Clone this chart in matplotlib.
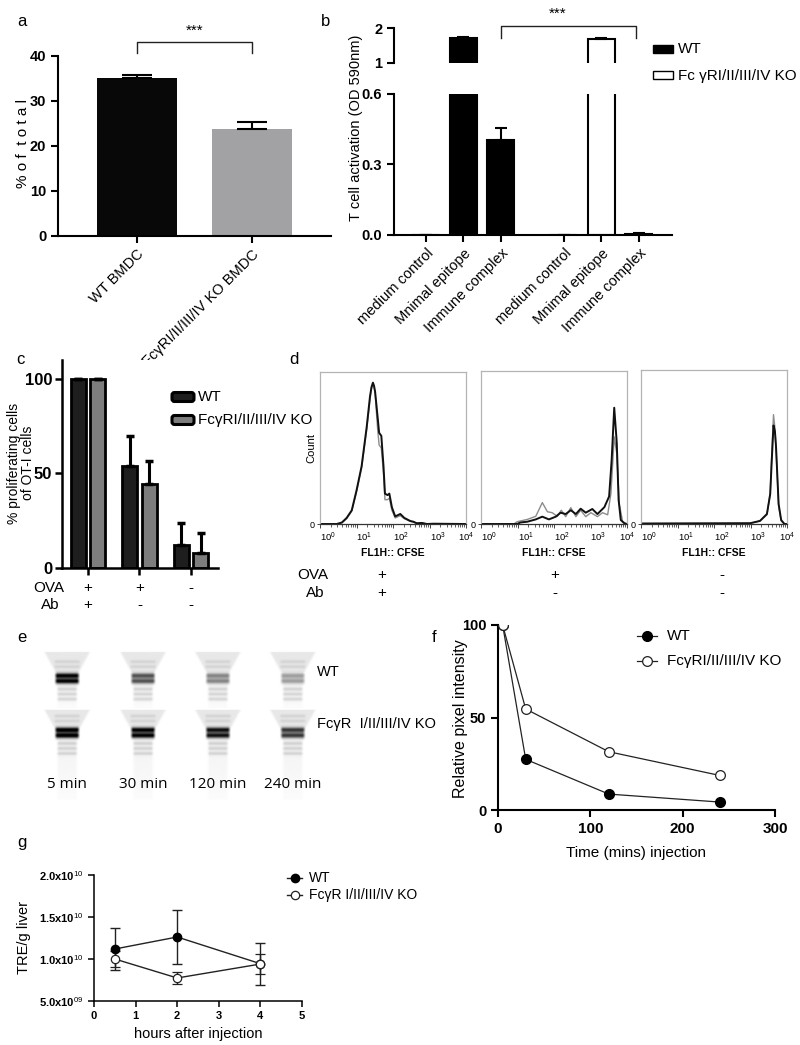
import numpy as np
import matplotlib
matplotlib.use('Agg')
import matplotlib.pyplot as plt
from matplotlib.patches import Rectangle, FancyBboxPatch
from matplotlib.lines import Line2D

plt.rcParams['font.family'] = ['Liberation Sans', 'DejaVu Sans']
plt.rcParams['mathtext.fontset'] = 'custom'
plt.rcParams['mathtext.rm'] = 'Liberation Sans'
plt.rcParams['mathtext.bf'] = 'Liberation Sans:bold'

# ---------------- data ----------------
a_groups = ['WT BMDC', 'FcγRI/II/III/IV KO BMDC']
a_values = [35.0, 23.7]
a_errors = [0.8, 1.6]

b_categories = ['medium control', 'Mnimal epitope', 'Immune complex']
b_wt_values = [0.0, 1.71, 0.404]
b_wt_errors = [0.0, 0.04, 0.052]
b_ko_values = [0.0, 1.69, 0.005]
b_ko_errors = [0.0, 0.035, 0.004]

c_wt_values = [100, 54, 12.3]
c_wt_errors = [0, 16, 11.5]
c_ko_values = [100, 44.4, 8.1]
c_ko_errors = [0, 12, 10.6]
c_ova = ['+', '+', '-']
c_ab = ['+', '-', '-']

# flow histograms: x in decades (log10 CFSE), y = relative count
d1_x = [0, 0.46, 0.6, 0.73, 0.87, 1.0, 1.14, 1.28, 1.37, 1.41, 1.45, 1.48, 1.51, 1.58, 1.62, 1.68,
        1.74, 1.78, 1.85, 1.9, 1.97, 2.06, 2.2, 2.31, 2.47, 2.56, 2.65, 2.79, 2.93, 3.11, 4.0]
d1_black = [0, 0, 0.01, 0.04, 0.09, 0.22, 0.38, 0.64, 0.84, 0.90, 0.93, 0.91, 0.87, 0.70, 0.60, 0.58,
            0.38, 0.20, 0.19, 0.20, 0.11, 0.05, 0.066, 0.04, 0.02, 0.015, 0.005, 0.007, 0, 0.002, 0]
d1_gray = [0, 0, 0.008, 0.035, 0.085, 0.21, 0.37, 0.62, 0.82, 0.89, 0.92, 0.90, 0.86, 0.62, 0.52, 0.50,
           0.33, 0.16, 0.16, 0.17, 0.09, 0.04, 0.055, 0.035, 0.018, 0.012, 0.004, 0.006, 0, 0.002, 0]
d2_x_black = [0, 0.99, 1.08, 1.27, 1.5, 1.68, 1.86, 2.05, 2.18, 2.32, 2.46, 2.6, 2.73, 2.87, 3.05,
              3.19, 3.38, 3.51, 3.58, 3.65, 3.72, 3.77, 3.83, 3.93, 4.0]
d2_black = [0, 0, 0.01, 0.015, 0.03, 0.048, 0.03, 0.048, 0.074, 0.065, 0.09, 0.065, 0.10, 0.074, 0.098,
            0.065, 0.11, 0.18, 0.42, 0.76, 0.53, 0.157, 0.026, 0.004, 0]
d2_x_gray = [0, 0.9, 0.99, 1.27, 1.5, 1.68, 1.82, 1.95, 2.09, 2.2, 2.32, 2.46, 2.6, 2.73, 2.87, 3.01,
             3.19, 3.33, 3.47, 3.56, 3.65, 3.72, 3.79, 3.88, 4.0]
d2_gray = [0, 0, 0.015, 0.03, 0.05, 0.14, 0.08, 0.074, 0.05, 0.09, 0.048, 0.107, 0.048, 0.09, 0.048,
           0.074, 0.048, 0.074, 0.06, 0.2, 0.57, 0.46, 0.13, 0.015, 0]
d3_x = [0, 2.99, 3.26, 3.45, 3.54, 3.58, 3.63, 3.67, 3.70, 3.77, 3.84, 3.93, 4.0]
d3_black = [0.003, 0.005, 0.02, 0.065, 0.195, 0.40, 0.64, 0.60, 0.50, 0.13, 0.026, 0.0, 0]
d3_gray = [0.003, 0.005, 0.02, 0.06, 0.20, 0.44, 0.71, 0.62, 0.48, 0.12, 0.02, 0.0, 0]
d_ova = ['+', '+', '-']
d_ab = ['+', '-', '-']

e_times = ['5 min', '30 min', '120 min', '240 min']
e_wt_band = [0.95, 0.62, 0.42, 0.32]
e_ko_band = [1.0, 0.95, 0.88, 0.72]

f_time = [5, 30, 120, 240]
f_wt = [100, 27.4, 8.6, 4.3]
f_ko = [100, 54.6, 31.5, 18.7]

g_hours = [0.5, 2, 4]
g_wt = [1.119e10, 1.262e10, 9.44e9]
g_wt_err = [2.5e9, 3.27e9, 2.5e9]
g_ko = [1.0e10, 7.74e9, 9.4e9]
g_ko_err = [1.0e9, 0.71e9, 1.2e9]

# ---------------- figure ----------------
FW, FH = 800, 1045
fig = plt.figure(figsize=(FW / 100, FH / 100), dpi=100)


def pax(x0, y0, x1, y1, **kw):
    return fig.add_axes([x0 / FW, 1 - y1 / FH, (x1 - x0) / FW, (y1 - y0) / FH], **kw)


def style_axis(ax, lw=1.5, ticklen=5, labelsize=10):
    for s in ['top', 'right']:
        ax.spines[s].set_visible(False)
    for s in ['left', 'bottom']:
        ax.spines[s].set_linewidth(lw)
    ax.tick_params(width=lw, length=ticklen, labelsize=labelsize, direction='out')


# overlay for free text (pixel coordinates)
ov = fig.add_axes([0, 0, 1, 1], zorder=10)
ov.set_xlim(0, FW)
ov.set_ylim(FH, 0)
ov.axis('off')

# panel letters
for letter, (x, y) in zip('abcdefg', [(22, 22), (326, 22), (20, 360), (294, 359),
                                      (22, 638), (434, 638), (22, 843)]):
    ov.text(x, y, letter, fontsize=12, ha='center', va='center')

# ---------------- panel a ----------------
axa = pax(58, 56, 331, 236)
xa = np.arange(len(a_values))
axa.bar(xa, a_values, width=0.69, color=['#080808', '#a2a2a5'], zorder=2)
axa.errorbar(xa, a_values, yerr=[[0, 0], a_errors], fmt='none', ecolor='k',
             elinewidth=1.5, capsize=10.5, capthick=1.5, zorder=3)
axa.set_xlim(-0.687, 1.687)
axa.set_ylim(0, 40)
axa.set_yticks([0, 10, 20, 30, 40])
axa.set_xticks(xa)
axa.set_xticklabels(a_groups, rotation=45, ha='right', rotation_mode='anchor', fontsize=10.5)
style_axis(axa, labelsize=10.5)
for t in axa.get_yticklabels():
    t.set_fontweight('bold')
axa.tick_params(axis='x', pad=3)
axa.plot([0, 0, 1, 1], [40.7, 43.1, 43.1, 40.7], color='#222222', lw=1, clip_on=False)
axa.text(0.5, 45.6, '***', ha='center', va='center', fontsize=11)
ov.text(23, 143, '% o f  t o t a l', rotation=90, ha='center', va='center', fontsize=11)

# ---------------- panel b ----------------
b_pos = [0, 1, 2, 3.68, 4.68, 5.68]
b_vals = b_wt_values + b_ko_values
b_errs = b_wt_errors + b_ko_errors
b_face = ['black'] * 3 + ['white'] * 3
axb = pax(394, 94, 672, 235)
axb2 = pax(394, 28, 672, 63)
for ax in (axb, axb2):
    ax.bar(b_pos, b_vals, width=0.72, color=b_face, edgecolor='black', linewidth=1.5, zorder=2)
    ax.errorbar(b_pos, b_vals, yerr=[[0] * 6, b_errs], fmt='none', ecolor='k',
                elinewidth=1.5, capsize=4.5, capthick=1.5, zorder=3)
    ax.set_xlim(-0.853, 6.56)
axb.set_ylim(0, 0.6)
axb.set_yticks([0, 0.3, 0.6])
axb.set_yticklabels(['0.0', '0.3', '0.6'])
axb.set_xticks(b_pos)
axb.set_xticklabels(b_categories * 2, rotation=45, ha='right', rotation_mode='anchor', fontsize=6.9)
style_axis(axb, labelsize=10.5)
axb.tick_params(axis='x', pad=3)
for t in axb.get_yticklabels():
    t.set_fontweight('bold')
axb2.set_ylim(1, 2)
axb2.set_yticks([1, 2])
axb2.set_xticks([])
for s in ['top', 'right', 'bottom']:
    axb2.spines[s].set_visible(False)
axb2.spines['left'].set_linewidth(1.5)
axb2.tick_params(width=1.5, length=5, labelsize=10.5)
for t in axb2.get_yticklabels():
    t.set_fontweight('bold')
axb2.patch.set_visible(False)
axb2.plot([2, 2, 5.6, 5.6], [1.71, 2.06, 2.06, 1.71], color='#222222', lw=1, clip_on=False)
axb2.text(3.52, 2.4, '***', ha='center', va='center', fontsize=11)
ov.text(356, 128, 'T cell activation (OD 590nm)', rotation=90, ha='center', va='center', fontsize=10.5)
ov.add_patch(Rectangle((653, 45), 20, 8, facecolor='black', edgecolor='black', lw=1))
ov.text(678, 49, 'WT', ha='left', va='center', fontsize=11)
ov.add_patch(Rectangle((653, 71), 20, 8, facecolor='white', edgecolor='black', lw=1))
ov.text(678, 76, 'Fc γRI/II/III/IV KO', ha='left', va='center', fontsize=11)

# ---------------- panel c ----------------
axc = pax(62, 360, 218, 568)
xc = np.arange(3)
axc.bar(xc - 0.19, c_wt_values, width=0.29, color='#1e1e1e', edgecolor='black', linewidth=2, zorder=2)
axc.bar(xc + 0.19, c_ko_values, width=0.29, color='#7d7d7d', edgecolor='black', linewidth=2, zorder=2)
axc.errorbar(xc - 0.19, c_wt_values, yerr=[[0] * 3, c_wt_errors], fmt='none', ecolor='k',
             elinewidth=2.2, capsize=2.6, capthick=2.5, zorder=3)
axc.errorbar(xc + 0.19, c_ko_values, yerr=[[0] * 3, c_ko_errors], fmt='none', ecolor='k',
             elinewidth=2.2, capsize=2.6, capthick=2.5, zorder=3)
axc.set_xlim(-0.5, 2.52)
axc.set_ylim(0, 110)
axc.set_yticks([0, 50, 100])
axc.set_xticks(xc)
axc.set_xticklabels([])
style_axis(axc, lw=1.8, ticklen=5, labelsize=12)
axc.tick_params(axis='y', pad=2)
for t in axc.get_yticklabels():
    t.set_fontweight('bold')
ov.text(14, 463, '% proliferating cells', rotation=90, ha='center', va='center', fontsize=10)
ov.text(28, 463, 'of OT-I cells', rotation=90, ha='center', va='center', fontsize=10)
ov.add_patch(FancyBboxPatch((172, 392.5), 22, 9, boxstyle='round,pad=0,rounding_size=2.5',
                            facecolor='#1e1e1e', edgecolor='black', lw=2.2))
ov.text(198, 397, 'WT', ha='left', va='center', fontsize=11)
ov.add_patch(FancyBboxPatch((172, 415.5), 22, 9, boxstyle='round,pad=0,rounding_size=2.5',
                            facecolor='#7d7d7d', edgecolor='black', lw=2.2))
ov.text(198, 420, 'FcγRI/II/III/IV KO', ha='left', va='center', fontsize=11)
ov.text(49, 588, 'OVA', ha='center', va='center', fontsize=11)
ov.text(50, 605, 'Ab', ha='center', va='center', fontsize=11)
for xi, o, a in zip(xc, c_ova, c_ab):
    px = axc.transData.transform((xi, 0))[0]
    ov.text(px, 588, o, ha='center', va='center', fontsize=11)
    ov.text(px, 605, a, ha='center', va='center', fontsize=11)

# ---------------- panel d ----------------
d_boxes = [(320, 372, 466, 524), (481, 371, 627, 524), (641, 370, 787, 524)]
d_curves = [((d1_x, d1_gray), (d1_x, d1_black)),
            ((d2_x_gray, d2_gray), (d2_x_black, d2_black)),
            ((d3_x, d3_gray), (d3_x, d3_black))]
minor = [n + np.log10(k) for n in range(4) for k in range(2, 10)]
for i, (box, (gc, bc)) in enumerate(zip(d_boxes, d_curves)):
    ax = pax(*box)
    ax.plot(gc[0], gc[1], color='#8c8c8c', lw=1.0)
    ax.plot(bc[0], bc[1], color='#111111', lw=1.4)
    ax.set_xlim(0, 4)
    ax.set_ylim(0, 1)
    for s in ['top', 'right', 'left']:
        ax.spines[s].set_color('#b4b4b4')
        ax.spines[s].set_linewidth(0.9)
    ax.spines['bottom'].set_color('#333333')
    ax.spines['bottom'].set_linewidth(0.9)
    ax.set_xticks(range(5))
    ax.set_xticklabels([r'$10^{%d}$' % k for k in range(5)], fontsize=6.8)
    for k, lab in enumerate(ax.get_xticklabels()):
        lab.set_ha('left' if k < 4 else 'center')
    ax.set_xticks(minor, minor=True)
    ax.tick_params(axis='x', which='major', length=3, width=0.7, color='#444444', pad=1.5)
    ax.tick_params(axis='x', which='minor', length=1.8, width=0.6, color='#444444')
    ax.set_yticks([0])
    ax.set_yticklabels(['0'], fontsize=6.5)
    ax.tick_params(axis='y', length=2.5, width=0.7, color='#444444', pad=1.5)
    ax.set_xlabel('FL1H:: CFSE', fontsize=7.5, fontweight='bold', labelpad=3)
ov.text(311, 448, 'Count', rotation=90, ha='center', va='center', fontsize=8)
ov.text(313, 575, 'OVA', ha='center', va='center', fontsize=11)
ov.text(315, 593, 'Ab', ha='center', va='center', fontsize=11)
for xpos, o, a in zip([382, 555, 722], d_ova, d_ab):
    ov.text(xpos, 575, o, ha='center', va='center', fontsize=11)
    ov.text(xpos, 593, a, ha='center', va='center', fontsize=11)

# ---------------- panel e (gel) ----------------
axe = pax(30, 645, 330, 805)
gx = np.linspace(30, 330, 601)
gy = np.linspace(645, 805, 321)
GX, GY = np.meshgrid(gx, gy)
dark = np.zeros_like(GX)
lane_x = [67, 143, 218, 293]


def soft(hw, xcen):
    return np.clip((hw - np.abs(GX - xcen)) / 3.0, 0, 1)


def yband(y0, y1):
    return ((GY >= y0) & (GY < y1)).astype(float)


def gauss(ycen, s):
    return np.exp(-0.5 * ((GY - ycen) / s) ** 2)


rows = [(652, e_wt_band, [675.5, 681.0], 708), (710, e_ko_band, [730.0, 735.5], 800)]
for top, bands, centres, bottom in rows:
    hw_taper = np.interp(GY, [top, top + 20], [24, 13])
    fade = np.interp(GY, [top + 30, bottom], [1.0, 0.3])
    for xcen, inten in zip(lane_x, bands):
        dark += 0.09 * soft(hw_taper, xcen) * yband(top, top + 20)
        dark += 0.06 * soft(12, xcen) * yband(top + 20, top + 30)
        dark += 0.05 * fade * soft(11, xcen) * yband(top + 30, bottom)
        for yc in centres:
            dark += inten * soft(13, xcen) * gauss(yc, 1.9)
        for yc in [centres[0] - 9, centres[0] - 14]:
            dark += 0.08 * soft(14, xcen) * gauss(yc, 1.2)
        for yc in [centres[1] + 8, centres[1] + 13, centres[1] + 18]:
            dark += 0.13 * soft(11, xcen) * gauss(yc, 1.3)
axe.imshow(np.clip(dark, 0, 1), cmap='gray_r', vmin=0, vmax=1, extent=(30, 330, 805, 645),
           aspect='auto', interpolation='bilinear')
axe.set_xlim(30, 330)
axe.set_ylim(805, 645)
axe.axis('off')
for xcen, t in zip(lane_x, e_times):
    ov.text(xcen, 785, t, ha='center', va='center', fontsize=11, family=['Open Sans', 'DejaVu Sans'])
ov.text(317, 672, 'WT', ha='left', va='center', fontsize=10.5)
ov.text(317, 724, 'FcγR  I/II/III/IV KO', ha='left', va='center', fontsize=10.5)

# ---------------- panel f ----------------
axf = pax(498, 625, 775, 810)
axf.plot(f_time, f_wt, color='#222222', lw=0.9, marker='o', ms=7, mfc='black', mec='black', zorder=3)
axf.plot(f_time, f_ko, color='#222222', lw=0.9, marker='o', ms=7, mfc='white', mec='#222222',
         mew=0.9, zorder=3)
axf.set_xlim(0, 300)
axf.set_ylim(0, 100)
axf.set_xticks([0, 100, 200, 300])
axf.set_yticks([0, 50, 100])
style_axis(axf, lw=1.5, ticklen=5, labelsize=11)
axf.tick_params(axis='y', labelsize=10.5)
for t in axf.get_yticklabels() + axf.get_xticklabels():
    t.set_fontweight('bold')
axf.set_xlabel('Time (mins) injection', fontsize=11, labelpad=7)
ov.text(460, 719, 'Relative pixel intensity', rotation=90, ha='center', va='center', fontsize=11.5)
ov.add_line(Line2D([637, 657], [636, 636], color='#222222', lw=0.9))
ov.plot([647], [636], marker='o', ms=7, mfc='black', mec='black')
ov.text(667, 636, 'WT', ha='left', va='center', fontsize=11)
ov.add_line(Line2D([637, 657], [661, 661], color='#222222', lw=0.9))
ov.plot([647], [661], marker='o', ms=7, mfc='white', mec='#222222', mew=0.9)
ov.text(667, 661, 'FcγRI/II/III/IV KO', ha='left', va='center', fontsize=11)

# ---------------- panel g ----------------
axg = pax(94, 875, 302, 1001)
axg.errorbar(g_hours, g_wt, yerr=g_wt_err, color='#222222', lw=1, marker='o', ms=6,
             mfc='black', mec='black', elinewidth=1, capsize=3.5, capthick=1, zorder=3)
axg.errorbar(g_hours, g_ko, yerr=g_ko_err, color='#222222', lw=1, marker='o', ms=6,
             mfc='white', mec='#222222', mew=0.9, elinewidth=1, capsize=3.5, capthick=1, zorder=3)
axg.set_xlim(0, 5)
axg.set_ylim(5e9, 2e10)
axg.set_xticks([0, 1, 2, 3, 4, 5])
axg.set_yticks([5e9, 1e10, 1.5e10, 2e10])
axg.set_yticklabels([r'5.0x10$^{09}$', r'1.0x10$^{10}$', r'1.5x10$^{10}$', r'2.0x10$^{10}$'])
style_axis(axg, lw=1.1, ticklen=4, labelsize=8)
for t in axg.get_yticklabels() + axg.get_xticklabels():
    t.set_fontweight('bold')
axg.set_xlabel('hours after injection', fontsize=10.5, labelpad=4)
axg.set_ylabel('TRE/g liver', fontsize=10.5, labelpad=6)
ov.add_line(Line2D([287, 302], [878, 878], color='#222222', lw=1))
ov.plot([295], [878], marker='o', ms=6, mfc='black', mec='black')
ov.text(309, 878, 'WT', ha='left', va='center', fontsize=10)
ov.add_line(Line2D([287, 302], [895, 895], color='#222222', lw=1))
ov.plot([295], [895], marker='o', ms=6, mfc='white', mec='#222222', mew=0.9)
ov.text(309, 895, 'FcγR I/II/III/IV KO', ha='left', va='center', fontsize=10)

ov.set_xlim(0, FW)
ov.set_ylim(FH, 0)
fig.savefig('out.png', dpi=100)
